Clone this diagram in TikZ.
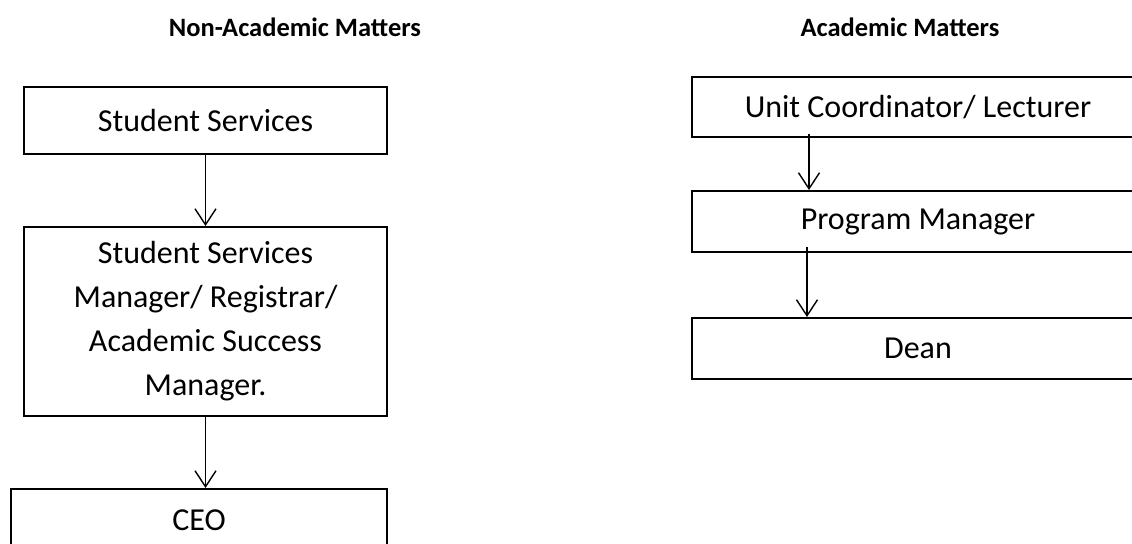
\documentclass[tikz,border=0pt]{standalone}
\usepackage{fontspec}
\setmainfont{Carlito}
\usetikzlibrary{positioning,arrows.meta}

\begin{document}
\begin{tikzpicture}[x=0.5pt,y=-0.5pt]
      \tikzset{
        node distance=1cm,
        box/.style={draw,line width=1pt,inner sep=0pt,align=center,
                    font=\fontsize{16}{22}\selectfont},
        heading/.style={font=\fontsize{13.25}{16}\selectfont\bfseries},
        arr/.style={line width=0.7pt,-{Straight Barb[length=8pt,width=10.5pt,line width=0.7pt]}}
      }
      \useasboundingbox (0,0) rectangle (1132,543);
      \clip (0,0) rectangle (1132,543);

      % left column
      \node[heading] (hnon) at (295,27) {Non-Academic Matters};
      \node[box,minimum width=181.5pt,minimum height=33.5pt] (ss) at (205.5,120.5) {Student Services};
      \node[box,minimum width=181.5pt,minimum height=94.5pt,below=35.5pt of ss] (ssm)
        {Student Services\\Manager/ Registrar/\\Academic Success\\Manager.};
      \node[box,minimum width=188pt,minimum height=31pt,anchor=north west] (ceo) at (10,488) {CEO};

      % right column
      \node[heading] (hac) at (900,27) {Academic Matters};
      \node[box,minimum width=226pt,minimum height=30pt,anchor=north west] (uc) at (691,76) {Unit Coordinator/ Lecturer};
      \node[box,minimum width=226pt,minimum height=30.5pt,below=26pt of uc] (pm) {Program Manager};
      \node[box,minimum width=226pt,minimum height=30.5pt,below=32pt of pm] (dean) {Dean};

      \draw[arr] (ss) -- (ssm);
      \draw[arr] (ssm.south) -- (ssm.south |- ceo.north);
      \draw[arr] ([xshift=59pt,yshift=2pt]uc.south west) -- ([xshift=59pt]pm.north west);
      \draw[arr] ([xshift=58pt,yshift=3pt]pm.south west) -- ([xshift=58pt]dean.north west);
    \end{tikzpicture}
\end{document}
